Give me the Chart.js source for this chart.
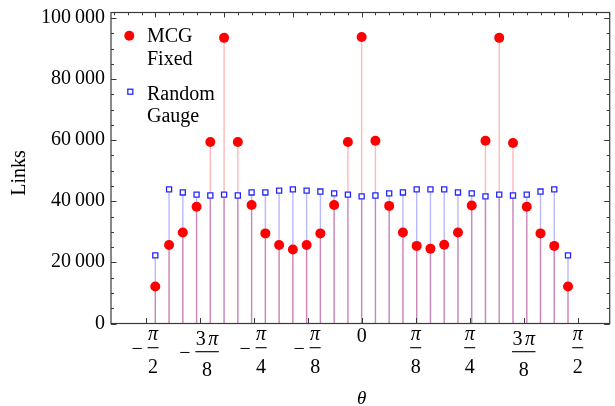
<!DOCTYPE html>
<html>
<head>
<meta charset="utf-8">
<script src="https://cdn.jsdelivr.net/npm/chart.js@4.4.1/dist/chart.umd.min.js"></script>
<style>
  body { margin: 0; background: #fff; }
  #wrap { width: 615px; height: 406px; }
</style>
</head>
<body>
<div id="wrap"><canvas id="myChart" width="615" height="406"></canvas></div>
<script>
// angle in radians
var thetas = [-1.5, -1.4, -1.3, -1.2, -1.1, -1.0, -0.9, -0.8, -0.7, -0.6, -0.5,
              -0.4, -0.3, -0.2, -0.1, 0, 0.1, 0.2, 0.3, 0.4, 0.5,
              0.6, 0.7, 0.8, 0.9, 1.0, 1.1, 1.2, 1.3, 1.4, 1.5];
var mcgFixed = [12100, 25700, 29800, 38200, 59400, 93500, 59400, 38800, 29500, 25700, 24200,
                25700, 29500, 38800, 59400, 93800, 59800, 38500, 29800, 25400, 24500,
                25800, 29800, 38600, 59800, 93500, 59100, 38200, 29500, 25400, 12100];
var randomGauge = [22300, 43900, 42900, 42200, 41900, 42200, 41900, 42900, 42900, 43500, 43900,
                   43500, 43200, 42600, 42200, 41600, 41900, 42600, 42900, 43900, 43900,
                   43900, 42900, 42600, 41600, 42200, 41900, 42200, 43200, 43900, 22300];
var xTickValues = [-Math.PI / 2, -3 * Math.PI / 8, -Math.PI / 4, -Math.PI / 8, 0,
                   Math.PI / 8, Math.PI / 4, 3 * Math.PI / 8, Math.PI / 2];
var xTickLabels = ['\u2212\u03c0/2', '\u22123\u03c0/8', '\u2212\u03c0/4', '\u2212\u03c0/8', '0',
                   '\u03c0/8', '\u03c0/4', '3\u03c0/8', '\u03c0/2'];
var yTickValues = [0, 20000, 40000, 60000, 80000, 100000];
var yTickLabels = ['0', '20\u2009000', '40\u2009000', '60\u2009000', '80\u2009000', '100\u2009000'];
var seriesNames = [['MCG', 'Fixed'], ['Random', 'Gauge']];

var SERIF = '"Liberation Serif", "Times New Roman", serif';
var RED = '#ff0000';
var BLUE = '#2626ff';

function pts(values) {
    return thetas.map(function(t, i) { return { x: t, y: values[i] }; });
}

function drawFraction(c, label, px) {
    var up = '20px ' + SERIF, it = 'italic 20px ' + SERIF;
    c.textBaseline = 'alphabetic';
    c.textAlign = 'left';
    if (label === '0') {
        c.font = up;
        c.textAlign = 'center';
        c.fillText('0', px, 341.5);
        return;
    }
    var neg = label.charAt(0) === '\u2212';
    var body = neg ? label.slice(1) : label;
    var parts = body.split('/');
    var coef = parts[0].replace('\u03c0', '');
    var den = parts[1];

    c.font = up;
    var coefW = coef ? c.measureText(coef).width : 0;
    var gap = coef ? 2.5 : 0;
    var denW = c.measureText(den).width;
    var mm = c.measureText('\u2212');
    var minusW = neg ? mm.actualBoundingBoxRight + mm.actualBoundingBoxLeft : 0;
    c.font = it;
    var piW = c.measureText('\u03c0').width;
    var numW = coefW + gap + piW;
    var barW = Math.max(numW, denW) + 1;
    var minusGap = neg ? 5 : 0;
    var total = minusW + minusGap + barW;
    var x0 = px - total / 2;
    var bx = x0 + minusW + minusGap;

    var numBase = coef ? 345 : 339.5;
    var barY = coef ? 351.7 : 347.7;
    var denBase = coef ? 376 : 373.3;

    if (neg) {
        c.font = up;
        c.fillText('\u2212', x0 + mm.actualBoundingBoxLeft, barY + 7.3);
    }
    var nx = bx + (barW - numW) / 2;
    if (coef) {
        c.font = up;
        c.fillText(coef, nx, numBase);
    }
    c.font = it;
    c.fillText('\u03c0', nx + coefW + gap, numBase);
    c.fillRect(bx, barY - 0.55, barW, 1.1);
    c.font = up;
    c.textAlign = 'center';
    c.fillText(den, bx + barW / 2, denBase);
}

var framePlugin = {
    id: 'frame',
    afterDatasetsDraw: function(chart) {
        var c = chart.ctx, a = chart.chartArea;
        var xs = chart.scales.x, ys = chart.scales.y;
        c.save();
        c.strokeStyle = '#3a3a3a';
        c.fillStyle = '#000';
        c.lineWidth = 1;

        // left and right frame ticks, every 5000
        for (var v = 0; v <= 100000; v += 5000) {
            var y = Math.round(ys.getPixelForValue(v)) + 0.5;
            var len = v % 20000 === 0 ? 5.5 : 3;
            c.beginPath();
            c.moveTo(a.left, y); c.lineTo(a.left + len, y);
            c.moveTo(a.right, y); c.lineTo(a.right - len, y);
            c.stroke();
        }
        // top frame ticks in plain radians
        for (var i = -18; i <= 18; i++) {
            var tx = Math.round(xs.getPixelForValue(i / 10)) + 0.5;
            if (tx < a.left || tx > a.right) continue;
            var tl = i % 5 === 0 ? 5 : 2.8;
            c.beginPath();
            c.moveTo(tx, a.top); c.lineTo(tx, a.top + tl);
            c.stroke();
        }
        // bottom ticks at multiples of pi/8
        xTickValues.forEach(function(t) {
            var bx = Math.round(xs.getPixelForValue(t)) + 0.5;
            c.beginPath();
            c.moveTo(bx, a.bottom); c.lineTo(bx, a.bottom - 5.5);
            c.stroke();
        });

        // frame
        c.lineWidth = 1.2;
        c.strokeRect(a.left, a.top, a.right - a.left, a.bottom - a.top);

        // y labels
        c.font = '20px ' + SERIF;
        c.textAlign = 'right';
        c.textBaseline = 'alphabetic';
        yTickValues.forEach(function(v, k) {
            c.fillText(yTickLabels[k], 105, ys.getPixelForValue(v) + 5);
        });
        // x labels
        xTickValues.forEach(function(t, k) {
            drawFraction(c, xTickLabels[k], xs.getPixelForValue(t));
        });

        // axis titles
        c.font = 'italic 19px ' + SERIF;
        c.textAlign = 'center';
        c.fillText('\u03b8', xs.getPixelForValue(0), 403.5);
        c.save();
        c.translate(25, 173);
        c.rotate(-Math.PI / 2);
        c.font = '20px ' + SERIF;
        c.fillText('Links', 0, 0);
        c.restore();

        // legend
        c.fillStyle = RED;
        c.beginPath();
        c.arc(129.3, 35.7, 5, 0, Math.PI * 2);
        c.fill();
        c.strokeStyle = BLUE;
        c.lineWidth = 1.3;
        c.fillStyle = '#fff';
        c.fillRect(127.8, 89.2, 5, 5);
        c.strokeRect(127.8, 89.2, 5, 5);
        c.fillStyle = '#000';
        c.font = '20px ' + SERIF;
        c.textAlign = 'left';
        c.fillText(seriesNames[0][0], 147, 41.7);
        c.fillText(seriesNames[0][1], 147, 65);
        c.fillText(seriesNames[1][0], 147, 100);
        c.fillText(seriesNames[1][1], 147, 121.7);
        c.restore();
    }
};

var ctx = document.getElementById('myChart');
var myChart = new Chart(ctx, {
    type: 'bar',
    data: {
        datasets: [
            {
                type: 'bar', data: pts(mcgFixed), order: 3,
                backgroundColor: 'rgba(255,0,0,0.28)', borderWidth: 0,
                barThickness: 1.4, grouped: false, inflateAmount: 0
            },
            {
                type: 'bar', data: pts(randomGauge), order: 4,
                backgroundColor: 'rgba(0,0,255,0.28)', borderWidth: 0,
                barThickness: 1.4, grouped: false, inflateAmount: 0
            },
            {
                type: 'scatter', data: pts(mcgFixed), order: 1,
                pointStyle: 'circle', pointRadius: 5,
                backgroundColor: RED, borderColor: RED, borderWidth: 0
            },
            {
                type: 'scatter', data: pts(randomGauge), order: 2,
                pointStyle: 'rect', pointRadius: 3.6,
                backgroundColor: '#fff', borderColor: BLUE, borderWidth: 1.3
            }
        ]
    },
    options: {
        responsive: false,
        animation: false,
        events: [],
        layout: { padding: { left: 111, right: 2, top: 12.5, bottom: 82.5 } },
        scales: {
            x: { type: 'linear', min: -1.822, max: 1.803, offset: false, display: false },
            y: { type: 'linear', min: 0, max: 101800, display: false }
        },
        plugins: {
            legend: { display: false },
            tooltip: { enabled: false }
        }
    },
    plugins: [framePlugin]
});
</script>
</body>
</html>
